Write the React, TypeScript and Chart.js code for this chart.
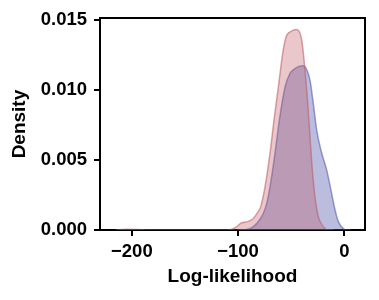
import React, { useEffect, useRef } from "react";
import { Chart, registerables } from "chart.js";

Chart.register(...registerables);

const redX = [-215, -205, -195, -185, -110, -103, -97, -91, -86, -82, -78.7, -74.6, -69.9, -66.1, -62.1, -58, -54.8, -50, -45.4, -40.1, -37, -34.4, -32.3, -30.1, -27.6, -24.4, -19.7, -15, -10];
const redY = [0, 0.00005, 0.00003, 0, 0, 0.00015, 0.0005, 0.0006, 0.0008, 0.0012, 0.00167, 0.0031, 0.0055, 0.0079, 0.0102, 0.0126, 0.0138, 0.0142, 0.01433, 0.01357, 0.01143, 0.00905, 0.00667, 0.0043, 0.00238, 0.00095, 0.00024, 0, 0];

const blueX = [-100, -92, -85.6, -80, -76.2, -73, -69.9, -65.2, -61.1, -55.8, -51.1, -47, -43.3, -38.6, -35, -32.3, -29.2, -26, -21.3, -16.6, -11.9, -8.7, -5.6, -0.9, 2.3, 6];
const blueY = [0, 0.00003, 0.00024, 0.0007, 0.0012, 0.0019, 0.0031, 0.0055, 0.00786, 0.0102, 0.0112, 0.0115, 0.01167, 0.01174, 0.0114, 0.0107, 0.00905, 0.00714, 0.0055, 0.0043, 0.0026, 0.00143, 0.0006, 0.0001, 0, 0];

const xTicks = [-200, -100, 0];
const yTicks = [0, 0.005, 0.01, 0.015];

const FONT = "'Liberation Sans', Arial, sans-serif";

const boxPlugin = {
  id: "boxPlugin",
  afterDraw(chart: any) {
    const { ctx, chartArea } = chart;
    ctx.save();
    ctx.strokeStyle = "#000";
    ctx.lineWidth = 2;
    ctx.beginPath();
    ctx.moveTo(chartArea.left, chartArea.top);
    ctx.lineTo(chartArea.right, chartArea.top);
    ctx.lineTo(chartArea.right, chartArea.bottom);
    ctx.stroke();
    ctx.restore();
  },
};

export default function App() {
  const ref = useRef<HTMLCanvasElement>(null);
  useEffect(() => {
    const toPts = (xs: number[], ys: number[]) => xs.map((x, i) => ({ x, y: ys[i] }));
    const chart = new Chart(ref.current!, {
      type: "line",
      data: {
        datasets: [
          {
            label: "red",
            data: toPts(redX, redY),
            borderColor: "rgba(189,86,98,0.55)",
            backgroundColor: "rgba(189,86,98,0.33)",
            borderWidth: 1.5,
            fill: "origin",
            pointRadius: 0,
            cubicInterpolationMode: "monotone",
          },
          {
            label: "blue",
            data: toPts(blueX, blueY),
            borderColor: "rgba(77,82,172,0.55)",
            backgroundColor: "rgba(77,82,172,0.38)",
            borderWidth: 1.5,
            fill: "origin",
            pointRadius: 0,
            cubicInterpolationMode: "monotone",
          },
        ],
      },
      options: {
        animation: false,
        responsive: false,
        devicePixelRatio: 1,
        layout: { padding: { left: 0, right: 14, top: 18, bottom: 0 } },
        plugins: { legend: { display: false }, tooltip: { enabled: false } },
        scales: {
          x: {
            type: "linear",
            min: -230,
            max: 19.5,
            afterBuildTicks: (s: any) => {
              s.ticks = xTicks.map((v) => ({ value: v }));
            },
            afterFit: (s: any) => {
              s.height = 70;
            },
            ticks: {
              color: "#000",
              font: { family: FONT, size: 18.5, weight: "bold" },
              padding: 5,
              maxRotation: 0,
              callback: (v: any) => (v < 0 ? "\u2212" + Math.abs(v) : String(v)),
            },
            grid: { drawOnChartArea: false, drawTicks: true, tickLength: 6, color: "#000", lineWidth: 2 },
            border: { display: true, color: "#000", width: 2 },
            title: {
              display: true,
              text: "Log-likelihood",
              color: "#000",
              font: { family: FONT, size: 19, weight: "bold" },
              padding: { top: 4, bottom: 12 },
            },
          },
          y: {
            type: "linear",
            min: 0,
            max: 0.01514,
            afterBuildTicks: (s: any) => {
              s.ticks = yTicks.map((v) => ({ value: v }));
            },
            afterFit: (s: any) => {
              s.width = 100;
            },
            ticks: {
              color: "#000",
              font: { family: FONT, size: 18.5, weight: "bold" },
              padding: 7,
              callback: (v: any) => Number(v).toFixed(3),
            },
            grid: { drawOnChartArea: false, drawTicks: true, tickLength: 6, color: "#000", lineWidth: 2 },
            border: { display: true, color: "#000", width: 2 },
            title: {
              display: true,
              text: "Density",
              color: "#000",
              font: { family: FONT, size: 19, weight: "bold" },
              padding: { top: 8, bottom: 4 },
            },
          },
        },
      },
      plugins: [boxPlugin],
    });
    return () => chart.destroy();
  }, []);
  return (
    <div style={{ position: "fixed", left: 0, top: 0, width: 379, height: 300, background: "#fff" }}>
      <canvas ref={ref} width={379} height={300} style={{ width: 379, height: 300, display: "block" }} />
    </div>
  );
}
